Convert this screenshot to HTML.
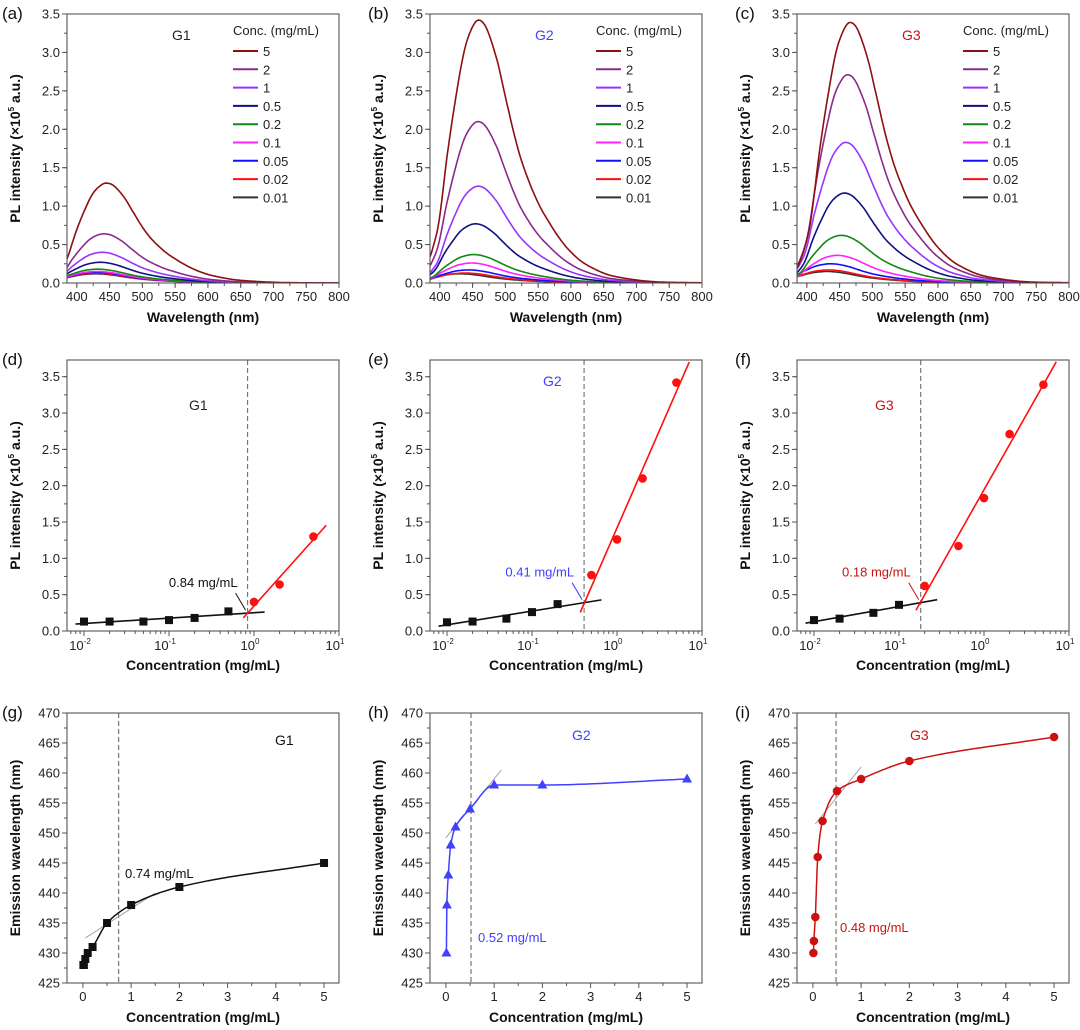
<!DOCTYPE html>
<html><head><meta charset="utf-8">
<style>
html,body{margin:0;padding:0;background:#fff;}
svg{display:block;font-family:"Liberation Sans",Arial,sans-serif;}
</style></head>
<body>
<svg id="fig" width="1080" height="1030" viewBox="0 0 1080 1030"></svg>
<script>
// ---------- DATA ----------
const concs = [5, 2, 1, 0.5, 0.2, 0.1, 0.05, 0.02, 0.01];
const concLabels = ["5","2","1","0.5","0.2","0.1","0.05","0.02","0.01"];
const lineColors = ["#8b1010","#8a2a8a","#9933ff","#101080","#118811","#ff22ff","#1010ff","#ff1010","#333333"];
// spectral peak heights (x10^5 a.u.) for each concentration (same order as concs)
const g1Peak = [1.30, 0.64, 0.40, 0.27, 0.18, 0.15, 0.14, 0.13, 0.12];
const g2Peak = [3.42, 2.10, 1.26, 0.77, 0.37, 0.26, 0.17, 0.13, 0.12];
const g3Peak = [3.39, 2.71, 1.83, 1.17, 0.62, 0.36, 0.25, 0.17, 0.15];
// emission peak wavelengths (nm), ascending concentration order
const concAsc = [0.01, 0.02, 0.05, 0.1, 0.2, 0.5, 1, 2, 5];
const g1Wl = [428, 428, 429, 430, 431, 435, 438, 441, 445];
const g2Wl = [430, 438, 443, 448, 451, 454, 458, 458, 459];
const g3Wl = [430, 432, 436, 446, 452, 457, 459, 462, 466];
// intensity vs concentration (ascending order)
const g1Int = [0.13, 0.13, 0.13, 0.15, 0.18, 0.27, 0.40, 0.64, 1.30];
const g2Int = [0.12, 0.13, 0.17, 0.26, 0.37, 0.77, 1.26, 2.10, 3.42];
const g3Int = [0.15, 0.17, 0.25, 0.36, 0.62, 1.17, 1.83, 2.71, 3.39];
const splitIdx = [6, 5, 4]; // first index of red (aggregated) regime
const cacThresh = [0.84, 0.41, 0.18];
const cacLabels = ["0.84 mg/mL","0.41 mg/mL","0.18 mg/mL"];
const shiftThresh = [0.74, 0.52, 0.48];
const shiftLabels = ["0.74 mg/mL","0.52 mg/mL","0.48 mg/mL"];
// normalized spectral profile (offset from peak in nm -> relative intensity)
const profOff = [-80,-70,-60,-47,-35,-22,-10,0,12,28,40,53,65,78,90,103,128,153,178,203,253,303,440];
const profVal = [0.06,0.13,0.24,0.5,0.7,0.88,0.97,1,0.97,0.85,0.72,0.58,0.47,0.38,0.31,0.25,0.155,0.09,0.052,0.028,0.008,0.002,0];
const wlTicks = [400,450,500,550,600,650,700,750,800];
const intTicks = [0,0.5,1,1.5,2,2.5,3,3.5];
const logTicks = [-2,-1,0,1];
const emTicks = [425,430,435,440,445,450,455,460,465,470];
const concTicks = [0,1,2,3,4,5];
const groupNames = ["G1","G2","G3"];
const groupColors = ["#222222","#4040ff","#cc1111"];

// ---------- LAYOUT ----------
const NS = "http://www.w3.org/2000/svg";
const svg = document.getElementById("fig");
const colL = [67, 430, 797], W = 272;
const rows = [[14,283],[360,631],[713,983]];
function mk(tag, attrs, parent){
  const e = document.createElementNS(NS, tag);
  for (const k in attrs) e.setAttribute(k, attrs[k]);
  (parent||svg).appendChild(e);
  return e;
}
function tag(el, name){
  
  
}
function txt(s, x, y, attrs, parent){
  const t = mk("text", Object.assign({x:x, y:y, "font-size":13, fill:"#222"}, attrs||{}), parent);
  t.textContent = s;
  return t;
}
function lin(d0,d1,r0,r1){ return v => r0 + (v-d0)/(d1-d0)*(r1-r0); }
function crInterp(xs, ys, x){
  let i = 0;
  if (x <= xs[0]) return ys[0];
  if (x >= xs[xs.length-1]) return ys[ys.length-1];
  while (xs[i+1] < x) i++;
  const x0=xs[Math.max(i-1,0)], x1=xs[i], x2=xs[i+1], x3=xs[Math.min(i+2,xs.length-1)];
  const y0=ys[Math.max(i-1,0)], y1=ys[i], y2=ys[i+1], y3=ys[Math.min(i+2,ys.length-1)];
  const h = x2-x1, t=(x-x1)/h;
  const m1 = (y2-y0)/(x2-x0||1)*h, m2 = (y3-y1)/(x3-x1||1)*h;
  const t2=t*t, t3=t2*t;
  return (2*t3-3*t2+1)*y1 + (t3-2*t2+t)*m1 + (-2*t3+3*t2)*y2 + (t3-t2)*m2;
}
// monotone cubic (Fritsch-Carlson)
function monoSlopes(xs, ys){
  const n=xs.length, d=[], m=[];
  for(let i=0;i<n-1;i++) d.push((ys[i+1]-ys[i])/(xs[i+1]-xs[i]));
  m[0]=d[0]; m[n-1]=d[n-2];
  for(let i=1;i<n-1;i++){
    if(d[i-1]*d[i]<=0) m[i]=0;
    else { const w1=2*(xs[i+1]-xs[i])+(xs[i]-xs[i-1]), w2=(xs[i+1]-xs[i])+2*(xs[i]-xs[i-1]); m[i]=(w1+w2)/(w1/d[i-1]+w2/d[i]); }
  }
  return m;
}
function monoEval(xs, ys, m, i, t){
  const h=xs[i+1]-xs[i], t2=t*t, t3=t2*t;
  return (2*t3-3*t2+1)*ys[i]+(t3-2*t2+t)*h*m[i]+(-2*t3+3*t2)*ys[i+1]+(t3-t2)*h*m[i+1];
}
function frame(g, L, T, B, name){
  const r = mk("rect",{x:L,y:T,width:W,height:B-T,fill:"none",stroke:"#555","stroke-width":1.1}, g);
  tag(r, name);
}
function yAxis(g, L, T, B, ticks, sy, fmt, minorStep, y0, y1){
  const ga = mk("g",{},g); tag(ga,"y-axis");
  ticks.forEach(v=>{
    const y=sy(v);
    mk("line",{x1:L-5,x2:L,y1:y,y2:y,stroke:"#555"},ga);
    const t = txt(fmt(v), L-7, y+4.5, {"text-anchor":"end"}, ga); tag(t,"y-tick-label");
  });
  for (let v=y0; v<=y1+1e-9; v+=minorStep){ const y=sy(v); if(y>=T-0.5&&y<=B+0.5) mk("line",{x1:L-3,x2:L,y1:y,y2:y,stroke:"#555"},ga); }
}
function xAxisLin(g, L, B, ticks, sx, minorVals, fmt){
  const ga = mk("g",{},g); tag(ga,"x-axis");
  ticks.forEach(v=>{
    const x=sx(v);
    mk("line",{x1:x,x2:x,y1:B,y2:B+5,stroke:"#555"},ga);
    const t = txt(fmt(v), x, B+18, {"text-anchor":"middle"}, ga); tag(t,"x-tick-label");
  });
  minorVals.forEach(v=>{ const x=sx(v); if(x>=L-0.5&&x<=L+W+0.5) mk("line",{x1:x,x2:x,y1:B,y2:B+3,stroke:"#555"},ga); });
}
function yTitle(g, L, T, B, s){
  const cy=(T+B)/2, cx=L-47;
  const t = mk("text",{x:cx,y:cy,"font-size":14,"font-weight":"bold",fill:"#111","text-anchor":"middle",transform:`rotate(-90 ${cx} ${cy})`},g);
  tag(t,"y-axis-title");
  return t;
}
function xTitle(g, L, B, s){
  const t = txt(s, L+W/2, B+39, {"text-anchor":"middle","font-size":14,"font-weight":"bold",fill:"#111"}, g);
  tag(t,"x-axis-title");
}
function plTitle(t){
  const a = mk("tspan",{},t); a.textContent="PL intensity (\u00d710";
  const b = mk("tspan",{"font-size":8,dy:-6},t); b.textContent="5";
  const c = mk("tspan",{dy:6},t); c.textContent=" a.u.)";
}
function panelLabel(s, x, y){
  const t = txt(s, x, y, {"font-size":17, fill:"#111"}); tag(t,"panel-label");
}
function marker(g, shape, x, y, color){
  let m;
  if (shape==="square") m = mk("rect",{x:x-4,y:y-4,width:8,height:8,fill:color},g);
  else if (shape==="tri") m = mk("path",{d:`M${x},${y-5.5}L${x+5},${y+3.5}L${x-5},${y+3.5}Z`,fill:color},g);
  else m = mk("circle",{cx:x,cy:y,r:4.3,fill:color},g);
  tag(m,"data-point");
  return m;
}

// ---------- ROW 1 : spectra ----------
const peaksAll=[g1Peak,g2Peak,g3Peak];
const wlAll=[g1Wl,g2Wl,g3Wl];
["(a)","(b)","(c)"].forEach((lab,p)=>{
  const L=colL[p], [T,B]=rows[0];
  const g = mk("g",{}); tag(g,"spectra-panel-"+"abc"[p]);
  const sx = lin(385,800,L,L+W), sy = lin(0,3.5,B,T);
  const cp = mk("clipPath",{id:"clip"+p},g); mk("rect",{x:L,y:T,width:W,height:B-T},cp);
  const gl = mk("g",{"clip-path":`url(#clip${p})`},g); tag(gl,"spectra-lines");
  for (let i=concs.length-1;i>=0;i--){
    const peak = peaksAll[p][i];
    const pw = wlAll[p][concAsc.indexOf(concs[i])];
    let d="";
    for (let w=385; w<=800; w+=2){
      const v = peak*Math.max(0,crInterp(profOff,profVal,w-pw));
      d += (d?"L":"M")+sx(w).toFixed(1)+","+sy(v).toFixed(1);
    }
    const pth = mk("path",{d:d,fill:"none",stroke:lineColors[i],"stroke-width":1.6},gl);
    
    
  }
  frame(g,L,T,B,"plot-frame");
  yAxis(g,L,T,B,intTicks,sy,v=>v.toFixed(1),0.25,0,3.5);
  const minors=[]; for(let w=375;w<=800;w+=25) minors.push(w);
  xAxisLin(g,L,B,wlTicks,sx,minors,v=>String(v));
  plTitle(yTitle(g,L,T,B));
  xTitle(g,L,B,"Wavelength (nm)");
  panelLabel(lab, L-65+ (p?3:0), 19);
  const gt = txt(groupNames[p], L+105, 40, {"font-size":14, fill:groupColors[p]}, g); tag(gt,"group-label");
  const lg = mk("g",{},g); tag(lg,"legend");
  const lx=L+166;
  const lt = txt("Conc. (mg/mL)", lx, 35, {"font-size":13}, lg); tag(lt,"legend-title");
  concs.forEach((c,i)=>{
    const y = 51 + i*18.3;
    const e = mk("g",{},lg);
    
    
    mk("line",{x1:lx,x2:lx+25,y1:y,y2:y,stroke:lineColors[i],"stroke-width":2},e);
    txt(concLabels[i], lx+30, y+5, {"font-size":13}, e);
  });
});

// ---------- ROW 2 : intensity vs log conc ----------
const intAll=[g1Int,g2Int,g3Int];
function fit(xs, ys){
  const n=xs.length; let sx=0,sy=0,sxx=0,sxy=0;
  for(let i=0;i<n;i++){sx+=xs[i];sy+=ys[i];sxx+=xs[i]*xs[i];sxy+=xs[i]*ys[i];}
  const m=(n*sxy-sx*sy)/(n*sxx-sx*sx); return [m,(sy-m*sx)/n];
}
["(d)","(e)","(f)"].forEach((lab,p)=>{
  const L=colL[p], [T,B]=rows[1];
  const g = mk("g",{}); tag(g,"intensity-panel-"+"def"[p]);
  const sx = lin(-2.2,1,L,L+W), sy = lin(0,3.73,B,T);
  const lx = concAsc.map(Math.log10);
  const k = splitIdx[p];
  const [m1,b1] = fit(lx.slice(0,k), intAll[p].slice(0,k));
  const [m2,b2] = fit(lx.slice(k), intAll[p].slice(k));
  const xi = (b1-b2)/(m2-m1);
  const cp = mk("clipPath",{id:"clipr"+p},g); mk("rect",{x:L,y:T,width:W,height:B-T},cp);
  const gc = mk("g",{"clip-path":`url(#clipr${p})`},g);
  const xt = Math.log10(cacThresh[p]);
  const dl = mk("line",{x1:sx(xt),x2:sx(xt),y1:T,y2:B,stroke:"#777","stroke-dasharray":"5,3","stroke-width":1.2},gc); tag(dl,"threshold-line");
  const bl = mk("line",{x1:sx(-2.1),y1:sy(m1*-2.1+b1),x2:sx(xi+0.2),y2:sy(m1*(xi+0.2)+b1),stroke:"#111","stroke-width":1.6},gc); tag(bl,"fit-line-low");
  const xe = 0.85;
  const rl = mk("line",{x1:sx(xi-0.05),y1:sy(m2*(xi-0.05)+b2),x2:sx(xe),y2:sy(m2*xe+b2),stroke:"#ff1010","stroke-width":1.6},gc); tag(rl,"fit-line-high");
  concAsc.forEach((c,i)=>{
    marker(g, i<k?"square":"circle", sx(lx[i]), sy(intAll[p][i]), i<k?"#111":"#ff1010");
  });
  frame(g,L,T,B,"plot-frame");
  yAxis(g,L,T,B,intTicks,sy,v=>v.toFixed(1),0.25,0,3.75);
  const ga = mk("g",{},g); tag(ga,"x-axis");
  logTicks.forEach(v=>{
    const x=sx(v);
    mk("line",{x1:x,x2:x,y1:B,y2:B+5,stroke:"#555"},ga);
    const t = txt("10", x-4, B+19, {"text-anchor":"middle"}, ga); tag(t,"x-tick-label");
    const s = mk("tspan",{"font-size":8,dy:-6},t); s.textContent=String(v);
  });
  for(let d=-3; d<1; d++) for(let j=2;j<10;j++){ const v=d+Math.log10(j); const x=sx(v); if(x>=L&&x<=L+W) mk("line",{x1:x,x2:x,y1:B,y2:B+3,stroke:"#555"},ga); }
  plTitle(yTitle(g,L,T,B));
  xTitle(g,L,B,"Concentration (mg/mL)");
  panelLabel(lab, L-65+(p?3:0), 365);
  const gx=[L+122,L+113,L+78][p], gy=[410,386,410][p];
  const gt = txt(groupNames[p], gx, gy, {"font-size":14, fill:groupColors[p]}, g); tag(gt,"group-label");
  const ac = [ "#111","#4040ff","#cc1111"][p];
  const ix = sx(xt), iy = sy(m1*xt+b1);
  const an = txt(cacLabels[p], ix-10, iy-26, {"text-anchor":"end","font-size":13,fill:ac}, g); tag(an,"threshold-annotation");
  const ar = mk("line",{x1:ix-12,y1:iy-20,x2:ix-2,y2:iy-3,stroke:ac,"stroke-width":1},g); tag(ar,"annotation-arrow");
});

// ---------- ROW 3 : emission wavelength vs conc ----------
const shapes=["square","tri","circle"];
const tanStart=[[0.05,432.5],[0,449.2],[0.05,451.5]];
const tanEnd=[[1.5,440],[1.15,460.5],[1,461]];
["(g)","(h)","(i)"].forEach((lab,p)=>{
  const L=colL[p], [T,B]=rows[2];
  const g = mk("g",{}); tag(g,"wavelength-panel-"+"ghi"[p]);
  const sx = lin(-0.33,5.31,L,L+W), sy = lin(425,470,B,T);
  const col = groupColors[p]==="#222222"?"#111":groupColors[p];
  const dl = mk("line",{x1:sx(shiftThresh[p]),x2:sx(shiftThresh[p]),y1:T,y2:B,stroke:"#777","stroke-dasharray":"5,3","stroke-width":1.2},g); tag(dl,"threshold-line");
  const tl = mk("line",{x1:sx(tanStart[p][0]),y1:sy(tanStart[p][1]),x2:sx(tanEnd[p][0]),y2:sy(tanEnd[p][1]),stroke:"#999","stroke-width":0.9},g); tag(tl,"tangent-line");
  const ys = wlAll[p];
  const ms = monoSlopes(concAsc, ys);
  let d="";
  for(let i=0;i<concAsc.length-1;i++){
    for(let s=0;s<=20;s++){
      const x = concAsc[i]+(concAsc[i+1]-concAsc[i])*s/20;
      const y = monoEval(concAsc, ys, ms, i, s/20);
      d += (d?"L":"M")+sx(x).toFixed(1)+","+sy(y).toFixed(1);
    }
  }
  const cv = mk("path",{d:d,fill:"none",stroke:col,"stroke-width":1.5},g); tag(cv,"trend-curve");
  concAsc.forEach((c,i)=>marker(g,shapes[p],sx(c),sy(ys[i]),col));
  frame(g,L,T,B,"plot-frame");
  yAxis(g,L,T,B,emTicks,sy,v=>String(v),2.5,425,470);
  xAxisLin(g,L,B,concTicks,sx,[0.5,1.5,2.5,3.5,4.5],v=>String(v));
  const yt = yTitle(g,L,T,B); yt.textContent="Emission wavelength (nm)";
  xTitle(g,L,B,"Concentration (mg/mL)");
  panelLabel(lab, L-65+(p?3:0), 718);
  const gx=[L+208,L+142,L+113][p], gy=[745,740,740][p];
  const gt = txt(groupNames[p], gx, gy, {"font-size":14, fill:col}, g); tag(gt,"group-label");
  const ax=[L+58,L+48,L+43][p], ay=[878,942,932][p];
  const an = txt(shiftLabels[p], ax, ay, {"font-size":13, fill:col}, g); tag(an,"threshold-annotation");
});
</script>
</body></html>
